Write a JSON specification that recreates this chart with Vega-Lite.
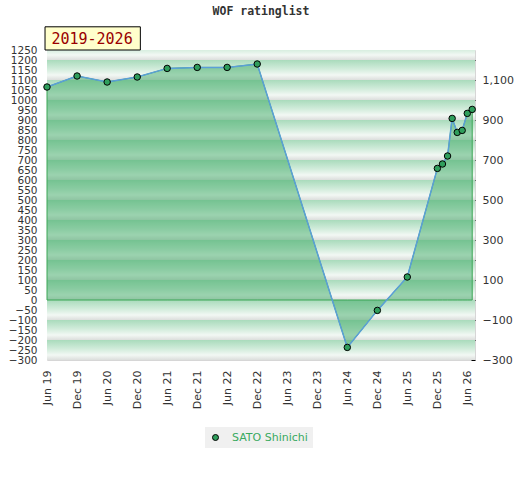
{
  "$schema": "https://vega.github.io/schema/vega-lite/v6.json",
  "width": 428,
  "height": 310,
  "autosize": "none",
  "padding": {"left": 47, "top": 50, "right": 45, "bottom": 120},
  "background": "white",
  "title": {
    "text": "WOF ratinglist",
    "font": "DejaVu Sans Mono",
    "fontSize": 11.5,
    "fontWeight": "bold",
    "color": "#333333",
    "anchor": "middle",
    "offset": 9
  },
  "config": {
    "view": {"stroke": "#d6d6d6"},
    "axis": {
      "labelFont": "DejaVu Sans",
      "labelFontSize": 11,
      "labelColor": "#333333",
      "domain": false,
      "grid": false,
      "title": null,
      "labelFlush": false,
      "labelOverlap": false
    }
  },
  "datasets": {
    "bands": [
      {"date": "2019-06-01", "date2": "2026-07-18", "lo": -300, "hi": -200},
      {"date": "2019-06-01", "date2": "2026-07-18", "lo": -200, "hi": -100},
      {"date": "2019-06-01", "date2": "2026-07-18", "lo": -100, "hi": 0},
      {"date": "2019-06-01", "date2": "2026-07-18", "lo": 0, "hi": 100},
      {"date": "2019-06-01", "date2": "2026-07-18", "lo": 100, "hi": 200},
      {"date": "2019-06-01", "date2": "2026-07-18", "lo": 200, "hi": 300},
      {"date": "2019-06-01", "date2": "2026-07-18", "lo": 300, "hi": 400},
      {"date": "2019-06-01", "date2": "2026-07-18", "lo": 400, "hi": 500},
      {"date": "2019-06-01", "date2": "2026-07-18", "lo": 500, "hi": 600},
      {"date": "2019-06-01", "date2": "2026-07-18", "lo": 600, "hi": 700},
      {"date": "2019-06-01", "date2": "2026-07-18", "lo": 700, "hi": 800},
      {"date": "2019-06-01", "date2": "2026-07-18", "lo": 800, "hi": 900},
      {"date": "2019-06-01", "date2": "2026-07-18", "lo": 900, "hi": 1000},
      {"date": "2019-06-01", "date2": "2026-07-18", "lo": 1000, "hi": 1100},
      {"date": "2019-06-01", "date2": "2026-07-18", "lo": 1100, "hi": 1200},
      {"date": "2019-06-01", "date2": "2026-07-18", "lo": 1200, "hi": 1300}
    ],
    "ratings": [
      {"date": "2019-06-01", "rating": 1065, "player": "SATO Shinichi"},
      {"date": "2019-12-01", "rating": 1120, "player": "SATO Shinichi"},
      {"date": "2020-06-01", "rating": 1090, "player": "SATO Shinichi"},
      {"date": "2020-12-01", "rating": 1115, "player": "SATO Shinichi"},
      {"date": "2021-06-01", "rating": 1158, "player": "SATO Shinichi"},
      {"date": "2021-12-01", "rating": 1163, "player": "SATO Shinichi"},
      {"date": "2022-06-01", "rating": 1163, "player": "SATO Shinichi"},
      {"date": "2022-12-01", "rating": 1180, "player": "SATO Shinichi"},
      {"date": "2024-06-01", "rating": -237, "player": "SATO Shinichi"},
      {"date": "2024-12-01", "rating": -52, "player": "SATO Shinichi"},
      {"date": "2025-06-01", "rating": 115, "player": "SATO Shinichi"},
      {"date": "2025-12-01", "rating": 658, "player": "SATO Shinichi"},
      {"date": "2026-01-01", "rating": 680, "player": "SATO Shinichi"},
      {"date": "2026-02-01", "rating": 720, "player": "SATO Shinichi"},
      {"date": "2026-03-01", "rating": 908, "player": "SATO Shinichi"},
      {"date": "2026-04-01", "rating": 838, "player": "SATO Shinichi"},
      {"date": "2026-05-01", "rating": 848, "player": "SATO Shinichi"},
      {"date": "2026-06-01", "rating": 933, "player": "SATO Shinichi"},
      {"date": "2026-07-01", "rating": 953, "player": "SATO Shinichi"}
    ],
    "tagbox": [
      {"date": "2019-05-20", "date2": "2020-12-20", "bottom": 1250, "top": 1366}
    ],
    "tagtext": [
      {"date": "2020-03-01", "level": 1305, "label": "2019-2026"}
    ]
  },
  "encoding": {
    "x": {
      "field": "date",
      "type": "temporal",
      "scale": {"type": "utc", "domain": [1559347200000, 1784332800000]},
      "axis": {
        "values": [
          1559347200000, 1575158400000, 1590969600000, 1606780800000,
          1622505600000, 1638316800000, 1654041600000, 1669852800000,
          1685577600000, 1701388800000, 1717200000000, 1733011200000,
          1748736000000, 1764547200000, 1780272000000
        ],
        "labelExpr": "utcFormat(datum.value, '%b %y')",
        "labelAngle": 270,
        "labelPadding": 10,
        "labelOverlap": false,
        "labelBound": false,
        "ticks": false
      }
    }
  },
  "layer": [
    {
      "data": {"name": "bands"},
      "mark": {
        "type": "rect",
        "clip": true,
        "fill": {
          "gradient": "linear",
          "x1": 0, "y1": 0, "x2": 0, "y2": 1,
          "stops": [
            {"offset": 0, "color": "#a9dbbc"},
            {"offset": 0.45, "color": "#d2ecdb"},
            {"offset": 0.75, "color": "#f2f8f4"},
            {"offset": 1, "color": "#dcdedc"}
          ]
        }
      },
      "encoding": {
        "x2": {"field": "date2"},
        "y": {"field": "lo", "type": "quantitative", "scale": {"domain": [-300, 1250], "nice": false, "zero": false}, "axis": null},
        "y2": {"field": "hi"}
      }
    },
    {
      "data": {"name": "ratings"},
      "mark": {"type": "area", "fill": "#3aa862", "fillOpacity": 0.47, "stroke": "#3aa655", "strokeWidth": 1},
      "encoding": {
        "y": {
          "field": "rating",
          "type": "quantitative",
          "scale": {"domain": [-300, 1250], "nice": false, "zero": false},
          "axis": {
            "orient": "left",
            "values": [-300, -250, -200, -150, -100, -50, 0, 50, 100, 150, 200, 250, 300, 350, 400, 450, 500, 550, 600, 650, 700, 750, 800, 850, 900, 950, 1000, 1050, 1100, 1150, 1200, 1250],
            "format": "d",
            "labelFontSize": 10.5,
            "labelOverlap": false,
            "ticks": false,
            "labelPadding": 10
          }
        }
      }
    },
    {
      "data": {"name": "ratings"},
      "mark": {"type": "line", "color": "#5b9fd8", "strokeWidth": 1.5},
      "encoding": {
        "y": {"field": "rating", "type": "quantitative", "axis": null}
      }
    },
    {
      "data": {"name": "ratings"},
      "mark": {"type": "point", "filled": true, "size": 42, "stroke": "#000000", "strokeWidth": 1, "opacity": 1},
      "encoding": {
        "y": {
          "field": "rating",
          "type": "quantitative",
          "axis": {
            "orient": "right",
            "values": [-300, -200, -100, 0, 100, 200, 300, 400, 500, 600, 700, 800, 900, 1000, 1100, 1200],
            "labelExpr": "datum.value % 200 == 0 ? '' : datum.label",
            "tickColor": "#000000",
            "tickSize": -4,
            "labelPadding": 11
          }
        },
        "color": {
          "field": "player",
          "type": "nominal",
          "scale": {"range": ["#2f9e5c"]},
          "legend": {
            "orient": "none",
            "legendX": 158,
            "legendY": 377,
            "title": null,
            "fillColor": "#f0f0f0",
            "padding": 5,
            "labelColor": "#3aaa60",
            "labelFont": "DejaVu Sans",
            "labelFontSize": 11,
            "labelOffset": 11,
            "symbolType": "circle",
            "symbolSize": 36,
            "symbolStrokeColor": "#000000",
            "symbolStrokeWidth": 1,
            "symbolFillColor": "#2f9e5c"
          }
        }
      }
    },
    {
      "data": {"name": "tagbox"},
      "mark": {"type": "rect", "fill": "#ffffcc", "stroke": "#000000", "strokeWidth": 1, "clip": false},
      "encoding": {
        "x2": {"field": "date2"},
        "y": {"field": "bottom", "type": "quantitative", "axis": null},
        "y2": {"field": "top"}
      }
    },
    {
      "data": {"name": "tagtext"},
      "mark": {"type": "text", "font": "DejaVu Sans Mono", "fontSize": 15, "color": "#990000", "align": "center", "baseline": "middle", "clip": false},
      "encoding": {
        "y": {"field": "level", "type": "quantitative", "axis": null},
        "text": {"field": "label"}
      }
    }
  ],
  "resolve": {"axis": {"y": "independent"}}
}
